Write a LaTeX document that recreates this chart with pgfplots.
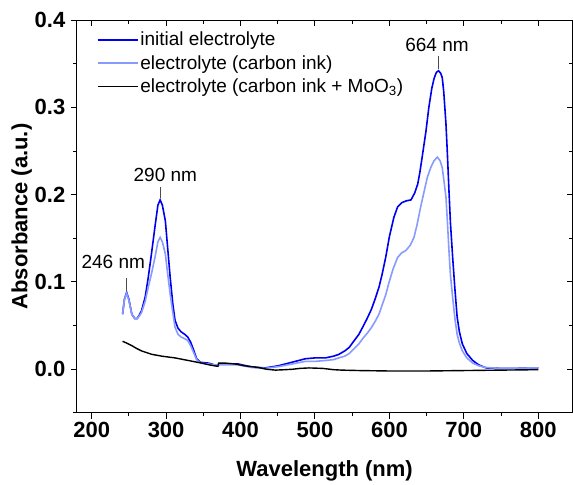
\documentclass[border=0pt]{standalone}
\usepackage{fontspec}
\setmainfont{Liberation Sans}
\usepackage{pgfplots}
\pgfplotsset{compat=1.18}

\definecolor{darkb}{RGB}{0,0,240}
\definecolor{lightb}{RGB}{135,155,255}

\pgfplotstableread{
x y
241.5 0.063
244 0.080
247 0.088
250 0.080
254 0.063
258 0.058
261 0.058
264 0.062
267 0.067
272 0.083
276 0.105
280 0.130
285 0.163
289 0.188
292 0.194
295 0.188
299 0.170
302 0.140
305.5 0.105
309 0.075
312 0.056
316 0.047
320 0.043
325 0.040
329 0.037
333 0.031
337 0.022
341 0.012
346 0.008
357 0.007
365 0.005
370 0.004
372 0.006
380 0.006
397 0.006
415 0.0026
433 0.0015
451 0.004
469 0.008
487 0.012
500 0.013
514 0.013
525 0.015
532 0.017
540 0.021
546 0.025
552 0.032
559 0.040
564 0.048
570 0.058
576 0.069
581 0.081
586 0.094
590 0.108
595 0.128
600 0.152
606 0.174
611 0.186
617 0.191
623 0.193
629 0.194
634 0.202
638 0.212
641 0.226
644 0.243
649 0.272
653 0.300
657 0.322
660 0.333
663 0.340
666 0.342
669 0.339
671 0.334
673 0.318
676 0.281
678 0.245
680 0.205
682 0.168
685 0.128
688 0.092
691 0.060
694 0.043
698 0.029
704 0.018
712 0.010
720 0.005
730 0.0015
750 0.001
770 0.001
790 0.0015
800 0.0015
}\initial

\pgfplotstableread{
x y
241.5 0.063
244 0.080
247 0.087
250 0.079
254 0.063
258 0.058
261 0.058
264 0.061
267 0.065
272 0.078
276 0.094
280 0.108
285 0.128
289 0.146
292 0.151
295 0.146
299 0.132
302 0.110
305.5 0.086
309 0.065
312 0.048
316 0.040
320 0.037
325 0.035
329 0.033
333 0.027
337 0.019
341 0.011
346 0.007
357 0.006
365 0.005
370 0.004
372 0.005
380 0.005
397 0.005
415 0.002
433 0.001
451 0.003
469 0.006
487 0.009
500 0.009
514 0.010
525 0.011
532 0.013
540 0.015
546 0.018
552 0.023
559 0.029
564 0.035
570 0.041
576 0.048
581 0.055
586 0.063
590 0.073
595 0.085
599 0.098
605 0.115
611 0.128
616 0.133
622 0.136
628 0.142
633 0.151
637 0.165
642 0.186
647 0.205
651 0.220
656 0.232
660 0.239
664.5 0.243
668 0.239
671 0.231
673 0.218
676 0.197
678 0.168
680 0.136
682 0.108
685 0.082
688 0.058
691 0.040
694 0.030
698 0.021
704 0.013
712 0.007
720 0.004
730 0.002
750 0.001
770 0.001
790 0.0015
800 0.0015
}\carbon

\pgfplotstableread{
x y
241.5 0.032
247 0.030
254 0.027
260 0.024
267 0.021
274 0.019
281 0.017
288 0.016
294 0.015
303 0.014
312 0.013
321 0.0115
330 0.010
339 0.0085
348 0.007
358 0.005
368 0.0035
369.5 0.0034
370.5 0.007
380 0.007
393 0.006
405 0.004
424 0.002
435 0.0
447 -0.001
460 -0.0005
470 0.0
480 0.001
492 0.0015
510 0.001
525 -0.0005
536 -0.001
560 -0.0015
600 -0.002
650 -0.002
700 -0.0015
750 -0.001
800 -0.0005
}\moo

\begin{document}
\begin{tikzpicture}
\pgfplotsset{
  common/.style={
    width=496pt, height=393pt, scale only axis,
    xmin=180, xmax=846, ymin=-0.05, ymax=0.4,
    xtick={200,300,...,800}, minor xtick={250,350,...,850},
    ytick={0,0.1,...,0.4}, minor ytick={-0.05,0.05,0.15,0.25,0.35},
    major tick length=6pt, minor tick length=3.5pt,
    every tick/.style={black, line width=1pt},
    axis line style={line width=1pt},
  }
}
\begin{axis}[common,
    xtick pos=bottom, ytick pos=left, tick align=outside,
    /pgf/number format/assume math mode=true,
    tick label style={font=\bfseries\fontsize{22}{26}\selectfont},
    yticklabel style={xshift=-2pt, /pgf/number format/.cd, fixed, fixed zerofill, precision=1},
    xticklabel style={/pgf/number format/.cd, set thousands separator={}},
    xlabel={\bfseries Wavelength (nm)},
    ylabel={\bfseries Absorbance (a.u.)},
    label style={font=\bfseries\fontsize{22}{26}\selectfont},
    xlabel style={yshift=-16pt},
    ylabel style={yshift=-4pt},
    legend style={at={(rel axis cs:0.04,0.975)}, anchor=north west, draw=none, fill=none,
      font=\fontsize{19}{23}\selectfont, inner sep=0pt, row sep=4pt,
      cells={anchor=west}},
    legend image code/.code={\draw[#1] (0pt,0pt) -- (40pt,0pt);},
]
\addplot[darkb, line width=1.6pt] table {\initial};
\addlegendentry{initial electrolyte}
\addplot[lightb, line width=1.6pt] table {\carbon};
\addlegendentry{electrolyte (carbon ink)}
\addplot[black, line width=1.4pt] table {\moo};
\addlegendentry{electrolyte (carbon ink + MoO\textsubscript{3})}

\draw[black!70, line width=0.8pt] (axis cs:246.7,0.090) -- (axis cs:246.7,0.104);
\draw[black!70, line width=0.8pt] (axis cs:292.3,0.196) -- (axis cs:292.3,0.209);
\draw[black!70, line width=0.8pt] (axis cs:665.6,0.344) -- (axis cs:665.6,0.359);
\node[font=\fontsize{19}{23}\selectfont] at (axis cs:229,0.1226) {246 nm};
\node[font=\fontsize{19}{23}\selectfont] at (axis cs:299,0.223) {290 nm};
\node[font=\fontsize{19}{23}\selectfont] at (axis cs:664,0.372) {664 nm};
\end{axis}
\begin{pgfinterruptboundingbox}
\begin{axis}[common,
    xtick pos=top, ytick pos=right, tick align=inside,
    xticklabels={}, yticklabels={},
]
\end{axis}
\end{pgfinterruptboundingbox}
\path ([xshift=-8pt]current bounding box.west) ([yshift=9pt]current bounding box.north);
\end{tikzpicture}
\end{document}
